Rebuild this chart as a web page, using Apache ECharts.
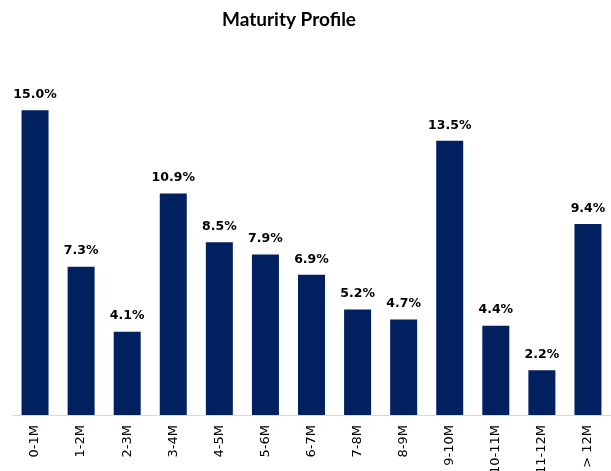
<!DOCTYPE html>
<html>
<head>
<meta charset="utf-8">
<script src="https://cdn.jsdelivr.net/npm/echarts@6/dist/echarts.min.js"></script>
<style>html,body{margin:0;padding:0;background:#fff}#c{width:611px;height:471px}</style>
</head>
<body>
<div id="c"></div>
<script>
var categories = ['0-1M','1-2M','2-3M','3-4M','4-5M','5-6M','6-7M','7-8M','8-9M','9-10M','10-11M','11-12M','> 12M'];
var values = [15.0, 7.3, 4.1, 10.9, 8.5, 7.9, 6.9, 5.2, 4.7, 13.5, 4.4, 2.2, 9.4];
var titleText = 'Maturity Profile';

var chart = echarts.init(document.getElementById('c'), null, {renderer: 'canvas'});
chart.setOption({
  animation: false,
  backgroundColor: '#fff',
  title: {
    text: titleText,
    left: 217,
    top: 5,
    textStyle: {fontFamily: 'Lato', fontWeight: 'bold', fontSize: 19, color: '#000'}
  },
  grid: {left: 12, right: 0, top: 90, bottom: 56, containLabel: false, outerBoundsMode: 'none'},
  xAxis: {
    type: 'category',
    data: categories,
    axisLine: {show: true, lineStyle: {color: '#d9d9d9', width: 1}},
    axisTick: {show: false},
    axisLabel: {
      rotate: 90,
      interval: 0,
      margin: 10,
      fontFamily: 'DejaVu Sans',
      fontSize: 13,
      color: '#000'
    }
  },
  yAxis: {
    type: 'value',
    min: 0,
    max: 16,
    show: false,
    splitLine: {show: false}
  },
  series: [{
    type: 'bar',
    data: values,
    barWidth: 27,
    itemStyle: {color: '#002060'},
    label: {
      show: true,
      position: 'top',
      distance: 9,
      formatter: function (p) { return p.value.toFixed(1) + '%'; },
      fontFamily: 'DejaVu Sans',
      fontWeight: 'bold',
      fontSize: 12.5,
      color: '#000'
    }
  }]
});
</script>
</body>
</html>
